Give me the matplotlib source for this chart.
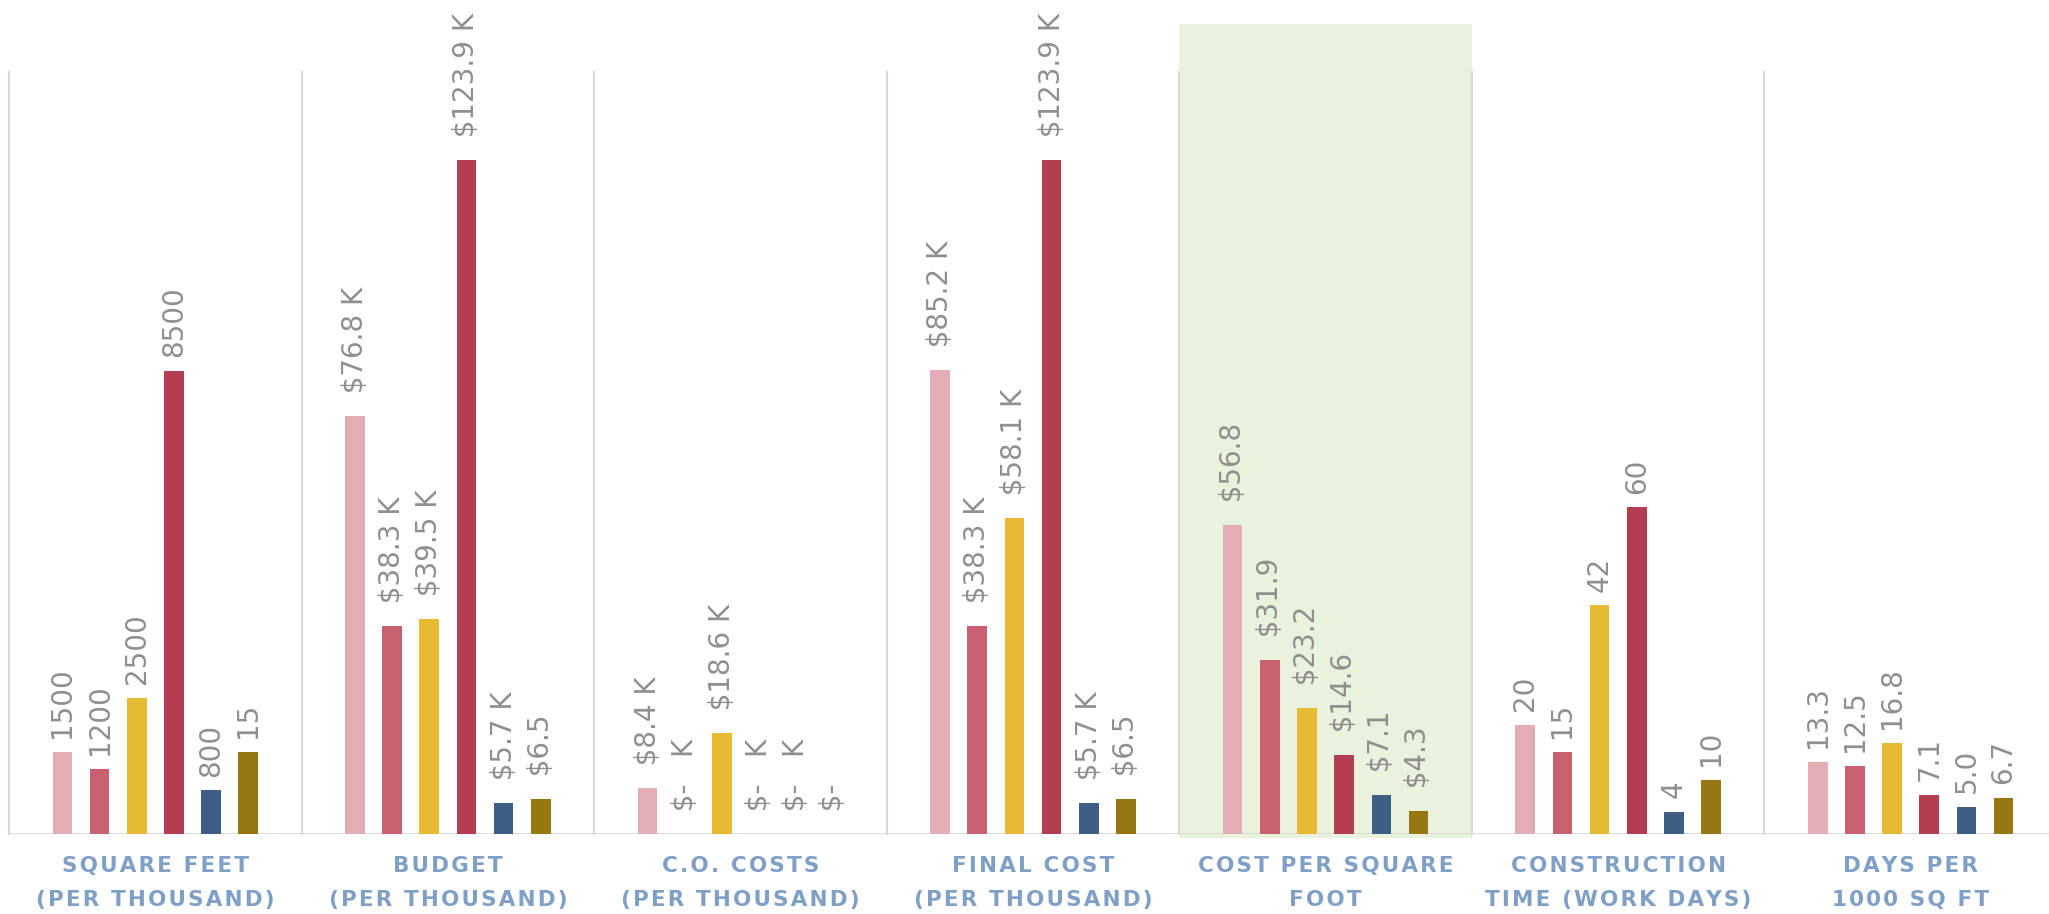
import matplotlib
matplotlib.use("Agg")
import matplotlib.pyplot as plt
from matplotlib.patches import Rectangle
import numpy as np

categories = ["SQUARE FEET\n(PER THOUSAND)", "BUDGET\n(PER THOUSAND)", "C.O. COSTS\n(PER THOUSAND)",
              "FINAL COST\n(PER THOUSAND)", "COST PER SQUARE\nFOOT", "CONSTRUCTION\nTIME (WORK DAYS)",
              "DAYS PER\n1000 SQ FT"]

s1_vals = [15, 76.8, 8.4, 85.2, 56.8, 20, 13.3]
s2_vals = [12, 38.3, 0, 38.3, 31.9, 15, 12.5]
s3_vals = [25, 39.5, 18.6, 58.1, 23.2, 42, 16.8]
s4_vals = [85, 123.9, 0, 123.9, 14.6, 60, 7.1]
s5_vals = [8, 5.7, 0, 5.7, 7.1, 4, 5.0]
s6_vals = [15, 6.5, 0, 6.5, 4.3, 10, 6.7]

s1_labels = ["1500", " $76.8 K", " $8.4 K", " $85.2 K", " $56.8", "20", "13.3"]
s2_labels = ["1200", " $38.3 K", " $-   K", " $38.3 K", " $31.9", "15", "12.5"]
s3_labels = ["2500", " $39.5 K", " $18.6 K", " $58.1 K", " $23.2", "42", "16.8"]
s4_labels = ["8500", " $123.9 K", " $-   K", " $123.9 K", " $14.6", "60", "7.1"]
s5_labels = ["800", " $5.7 K", " $-   K", " $5.7 K", " $7.1", "4", "5.0"]
s6_labels = ["15", " $6.5", " $-", " $6.5", " $4.3", "10", "6.7"]

colors = ["#e2adb4", "#c96070", "#e6bb33", "#b33e52", "#3e5e85", "#977712"]
highlight_index = 4

series_vals = [s1_vals, s2_vals, s3_vals, s4_vals, s5_vals, s6_vals]
series_labels = [s1_labels, s2_labels, s3_labels, s4_labels, s5_labels, s6_labels]

W, H = 2049, 914
fig = plt.figure(figsize=(W / 100, H / 100), dpi=100)
ax = fig.add_axes([9 / W, (H - 834) / H, 2048 / W, (834 - 72) / H])
ax.set_xlim(-0.5, 6.5)
ax.set_ylim(0, 140)
ax.axis("off")

n = len(categories)
x = np.arange(n)
pitch = 0.127
bw = 0.067

# highlight
ax.add_patch(Rectangle((highlight_index - 0.5, -0.7), 1.0, 148.8 + 0.7, facecolor="#e8f2dc",
                       edgecolor="none", zorder=0, clip_on=False))

# separators & baseline
for b in np.arange(-0.5, n + 0.5, 1.0):
    ax.plot([b, b], [0, 140], color="#d9d9d9", lw=1.5, zorder=1, clip_on=False)
ax.axhline(0, color="#d9d9d9", lw=2, zorder=1)

for k, (vals, labs) in enumerate(zip(series_vals, series_labels)):
    xs = x + (k - 2.5) * pitch
    ax.bar(xs, vals, width=bw, color=colors[k], zorder=2, linewidth=0)
    for xi, v, t in zip(xs, vals, labs):
        ax.annotate(t, (xi, v), xytext=(0, 10), textcoords="offset points", rotation=90,
                    ha="center", va="bottom", fontsize=20, color="#8f8f8f",
                    family="DejaVu Sans", annotation_clip=False, zorder=3)

def spaced(s):
    return "\n".join("\u200a".join(list(line)) for line in s.split("\n"))

for i, c in enumerate(categories):
    ax.annotate(spaced(c), (i, 0), xytext=(0, -16), textcoords="offset points",
                ha="center", va="top", fontsize=15.5, fontweight="bold", color="#7f9fc6",
                linespacing=1.85, annotation_clip=False)

fig.savefig("out.png", dpi=100)
